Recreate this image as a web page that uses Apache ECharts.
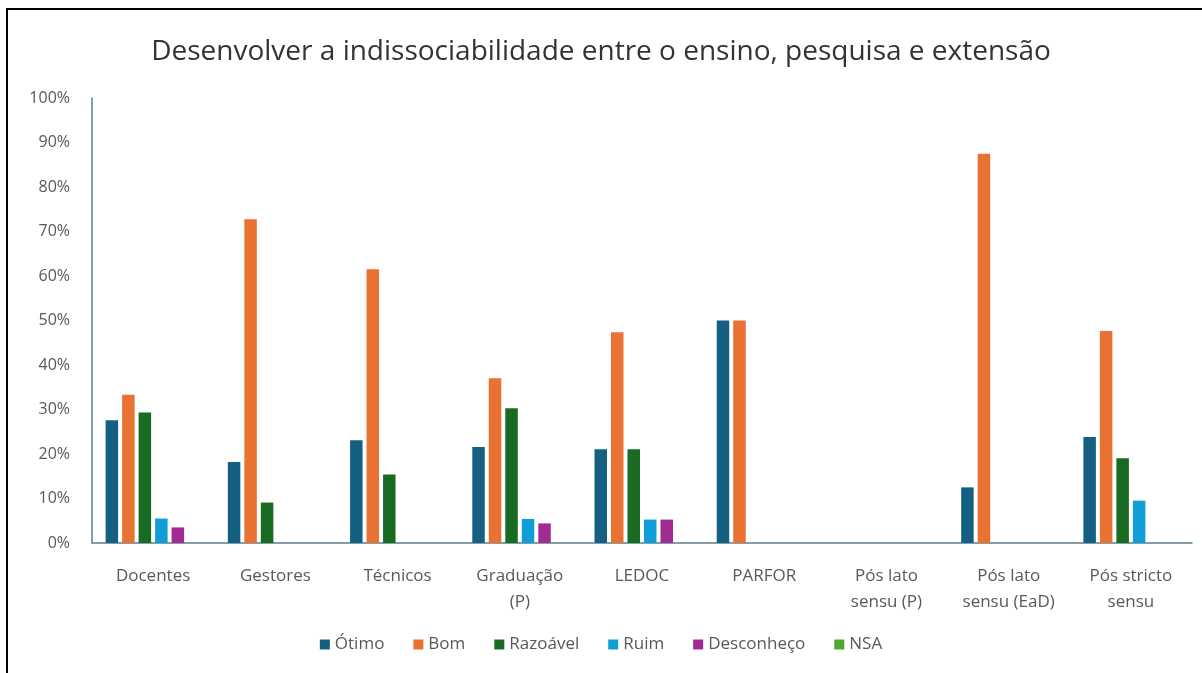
<!DOCTYPE html>
<html>
<head>
<meta charset="utf-8">
<title>Desenvolver a indissociabilidade</title>
<script src="https://cdn.jsdelivr.net/npm/echarts@6/dist/echarts.min.js"></script>
<style>
  html, body { margin: 0; padding: 0; background: #fff; }
  #chart { width: 1202px; height: 673px; }
</style>
</head>
<body>
<div id="chart"></div>
<script>
// categorias do eixo x
const categorias = ['Docentes', 'Gestores', 'Técnicos', 'Graduação\n(P)', 'LEDOC', 'PARFOR',
  'Pós lato\nsensu (P)', 'Pós lato\nsensu (EaD)', 'Pós stricto\nsensu'];

// valores (%)
const otimo = [27.6, 18.18, 23.08, 21.6, 21.05, 50, 0, 12.5, 23.81];
const bom = [33.3, 72.73, 61.54, 37.0, 47.37, 50, 0, 87.5, 47.62];
const razoavel = [29.3, 9.09, 15.38, 30.3, 21.05, 0, 0, 0, 19.05];
const ruim = [5.5, 0, 0, 5.4, 5.26, 0, 0, 0, 9.52];
const desconheco = [3.5, 0, 0, 4.4, 5.26, 0, 0, 0, 0];
const nsa = [0, 0, 0, 0, 0, 0, 0, 0, 0];

const yTicks = [0, 10, 20, 30, 40, 50, 60, 70, 80, 90, 100];

const fonte = '"Open Sans", sans-serif';
const chart = echarts.init(document.getElementById('chart'));

function serie(nome, dados, cor) {
  return {
    name: nome,
    type: 'bar',
    data: dados,
    barWidth: 12.5,
    barGap: '32%',
    itemStyle: { color: cor },
    emphasis: { disabled: true }
  };
}

const option = {
  backgroundColor: '#fff',
  animation: false,
  textStyle: { fontFamily: fonte },
  title: {
    text: 'Desenvolver a indissociabilidade entre o ensino, pesquisa e extensão',
    left: 'center',
    top: 33,
    textStyle: { fontFamily: fonte, fontSize: 28, fontWeight: 'normal', color: '#333' }
  },
  legend: {
    bottom: 15,
    left: 'center',
    icon: 'rect',
    itemWidth: 10,
    itemHeight: 10,
    itemGap: 29,
    textStyle: { fontFamily: fonte, fontSize: 17, color: '#595959' },
    data: ['Ótimo', 'Bom', 'Razoável', 'Ruim', 'Desconheço', 'NSA']
  },
  grid: { left: 92, right: 10, top: 98, bottom: 130, containLabel: false },
  xAxis: {
    type: 'category',
    data: categorias,
    axisLine: { lineStyle: { color: '#5f7f8f', width: 1.5 } },
    axisTick: { show: false },
    axisLabel: { fontFamily: fonte, fontSize: 17, color: '#595959', margin: 20, lineHeight: 26, interval: 0 }
  },
  yAxis: {
    type: 'value',
    min: yTicks[0],
    max: yTicks[yTicks.length - 1],
    interval: 10,
    axisLine: { show: true, lineStyle: { color: '#5f7f8f', width: 1.5 } },
    axisTick: { show: false },
    splitLine: { show: false },
    axisLabel: { fontFamily: fonte, fontSize: 16, color: '#595959', margin: 22, formatter: '{value}%' }
  },
  graphic: [
    { type: 'line', shape: { x1: 6, y1: 9, x2: 1202, y2: 9 }, style: { stroke: '#000', lineWidth: 2 } },
    { type: 'line', shape: { x1: 7, y1: 9, x2: 7, y2: 673 }, style: { stroke: '#000', lineWidth: 2 } }
  ],
  series: [
    serie('Ótimo', otimo, '#156082'),
    serie('Bom', bom, '#E97132'),
    serie('Razoável', razoavel, '#196B24'),
    serie('Ruim', ruim, '#0F9ED5'),
    serie('Desconheço', desconheco, '#A02B93'),
    serie('NSA', nsa, '#4EA72E')
  ]
};

chart.setOption(option);
</script>
</body>
</html>
